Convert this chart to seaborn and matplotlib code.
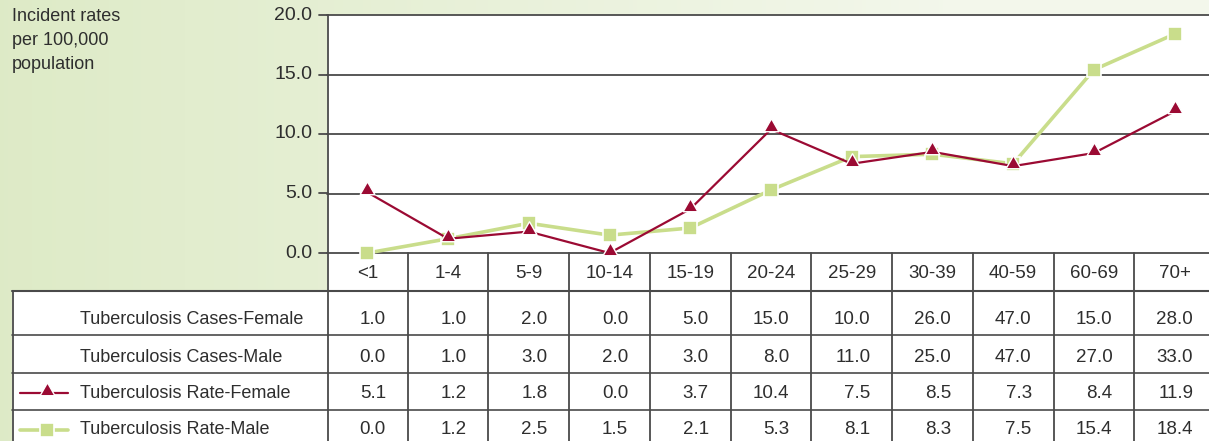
import numpy as np
import pandas as pd
import matplotlib.pyplot as plt
import seaborn as sns
from matplotlib.lines import Line2D
from matplotlib.patches import Rectangle
from matplotlib.transforms import blended_transform_factory

# data
ages = ["<1", "1-4", "5-9", "10-14", "15-19", "20-24", "25-29", "30-39", "40-59", "60-69", "70+"]
cases_female = [1.0, 1.0, 2.0, 0.0, 5.0, 15.0, 10.0, 26.0, 47.0, 15.0, 28.0]
cases_male = [0.0, 1.0, 3.0, 2.0, 3.0, 8.0, 11.0, 25.0, 47.0, 27.0, 33.0]
rate_female = [5.1, 1.2, 1.8, 0.0, 3.7, 10.4, 7.5, 8.5, 7.3, 8.4, 11.9]
rate_male = [0.0, 1.2, 2.5, 1.5, 2.1, 5.3, 8.1, 8.3, 7.5, 15.4, 18.4]
row_labels = ["Tuberculosis Cases-Female", "Tuberculosis Cases-Male",
              "Tuberculosis Rate-Female", "Tuberculosis Rate-Male"]
y_ticks = [0, 5, 10, 15, 20]

RED = "#9b0a33"
GREEN = "#c9dd8b"
LINE = "#4a4a4a"
TXT = "#2e2e2e"

W, H = 1209, 441
sns.set_style("white")
plt.rcParams["font.family"] = ["Liberation Sans", "DejaVu Sans"]

fig = plt.figure(figsize=(W / 100, H / 100), dpi=100)

def fx(px):
    return px / W

def fy(py):
    return 1 - py / H

# green gradient background
bg = fig.add_axes([0, 0, 1, 1], zorder=-10)
xx = np.linspace(0, 1, 300)
t = np.clip(xx / 0.8, 0, 1) ** 1.0
c0 = np.array([0.87, 0.92, 0.78])
c1 = np.array([0.955, 0.97, 0.925])
grad = c0[None, :] * (1 - t[:, None]) + c1[None, :] * t[:, None]
bg.imshow(grad[None, :, :], aspect="auto", extent=[0, 1, 0, 1])
bg.set_axis_off()

# white areas (plot + table)
fig.add_artist(Rectangle((fx(327), 0), 1, fy(15), transform=fig.transFigure,
                         facecolor="white", edgecolor="none", zorder=-5))
fig.add_artist(Rectangle((fx(12), 0), fx(320), fy(291), transform=fig.transFigure,
                         facecolor="white", edgecolor="none", zorder=-5))

# main chart
x0, x1 = 327, 1215
ax = fig.add_axes([fx(x0), fy(253), fx(x1 - x0), fy(15) - fy(253)])
ax.patch.set_alpha(0)
pos = np.arange(len(ages))

for v in y_ticks:
    ax.axhline(v, color=LINE, lw=1.3, zorder=1, clip_on=False)

tri = [(-1, -0.3), (1, -0.3), (0, 1.45), (-1, -0.3)]
sns.lineplot(x=pos, y=rate_male, ax=ax, color=GREEN, lw=2.6, marker="s",
             markersize=10.5, markeredgecolor="white", markeredgewidth=1.2,
             zorder=3, clip_on=False)
sns.lineplot(x=pos, y=rate_female, ax=ax, color=RED, lw=1.6, marker=tri,
             markersize=15.5, markeredgecolor="white", markeredgewidth=1.0,
             zorder=4, clip_on=False)

ax.set_xlim(-0.5, 10.5)
ax.set_ylim(0, 20)
ax.set_xticks([])
ax.set_yticks([])
for s in ax.spines.values():
    s.set_visible(False)

# y tick labels and tick marks
for v in y_ticks:
    fig.text(fx(312), fy(253 - v * 11.9), f"{v:.1f}", ha="right", va="center",
             fontsize=14, color=TXT)
    fig.add_artist(Line2D([fx(319), fx(328)], [fy(253 - v * 11.9)] * 2,
                          transform=fig.transFigure, color=LINE, lw=1.3))

fig.text(fx(12), fy(8), "Incident rates\nper 100,000\npopulation", ha="left", va="top",
         fontsize=13, color=TXT, linespacing=1.55)

# table under the chart
tr = blended_transform_factory(ax.transData, fig.transFigure)
fig.add_artist(Line2D([fx(327.5)] * 2, [fy(15), 0], transform=fig.transFigure,
                      color=LINE, lw=1.3))
for k in range(len(ages) - 1):
    fig.add_artist(Line2D([k + 0.5] * 2, [fy(253), 0], transform=tr, color=LINE, lw=1.3))
for py in [291, 335, 373, 410]:
    fig.add_artist(Line2D([fx(12), 1], [fy(py)] * 2, transform=fig.transFigure,
                          color=LINE, lw=1.5 if py == 291 else 1.2))
fig.add_artist(Line2D([fx(12.5)] * 2, [fy(291), 0], transform=fig.transFigure,
                      color=LINE, lw=1.3))

for k, a in enumerate(ages):
    fig.text(k, fy(273), a, transform=tr, ha="center", va="center",
             fontsize=13.5, color=TXT)

rows = [cases_female, cases_male, rate_female, rate_male]
row_y = [320, 357, 393, 430]
for vals, lab, py in zip(rows, row_labels, row_y):
    fig.text(fx(80), fy(py), lab, ha="left", va="center", fontsize=13, color=TXT)
    for k, v in enumerate(vals):
        fig.text(k + 0.23, fy(py), f"{v:.1f}", transform=tr, ha="right", va="center",
                 fontsize=13.5, color=TXT)

# legend keys in the table
fig.add_artist(Line2D([fx(20), fx(47), fx(68)], [fy(393)] * 3, transform=fig.transFigure,
                      color=RED, lw=1.6, marker=tri, markersize=15.5, markevery=[1],
                      markeredgecolor="white", markeredgewidth=1.0))
fig.add_artist(Line2D([fx(20), fx(47), fx(68)], [fy(430)] * 3, transform=fig.transFigure,
                      color=GREEN, lw=2.6, marker="s", markersize=10.5, markevery=[1],
                      markeredgecolor="white", markeredgewidth=1.2))

fig.savefig("out.png", dpi=100)
